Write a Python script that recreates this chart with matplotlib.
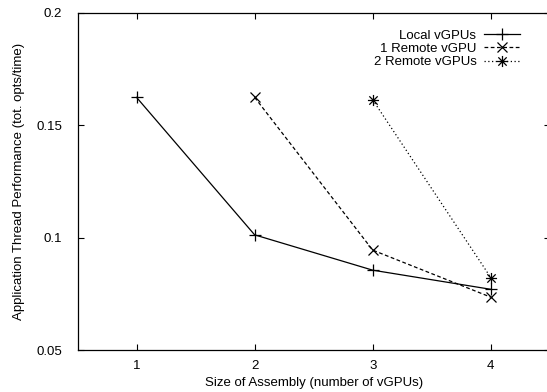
import matplotlib.pyplot as plt
from matplotlib.path import Path

# Data
sizes_local = [1, 2, 3, 4]
perf_local = [0.1623, 0.1012, 0.0855, 0.0770]

sizes_remote1 = [2, 3, 4]
perf_remote1 = [0.1623, 0.0944, 0.0735]

sizes_remote2 = [3, 4]
perf_remote2 = [0.1612, 0.0822]

xticks = [1, 2, 3, 4]
yticks = [0.05, 0.1, 0.15, 0.2]
ytick_labels = ["0.05", "0.1", "0.15", "0.2"]

plt.rcParams['font.family'] = ['Liberation Sans', 'DejaVu Sans']

# gnuplot style star: plus and cross on top of each other
star = Path(
    [(-1, 0), (1, 0), (0, -1), (0, 1), (-0.75, -0.75), (0.75, 0.75), (-0.75, 0.75), (0.75, -0.75)],
    [Path.MOVETO, Path.LINETO] * 4,
)

fig = plt.figure(figsize=(5.47, 3.92), dpi=100)
ax = fig.add_axes([0.1417, 0.107, 0.8635, 0.861])

ax.plot(sizes_local, perf_local, color="black", linestyle="-", linewidth=0.9,
        marker="+", markersize=8, markeredgewidth=0.9, label="Local vGPUs")
ax.plot(sizes_remote1, perf_remote1, color="black", linestyle=(0, (3, 2)), linewidth=0.9,
        marker="x", markersize=7, markeredgewidth=0.9, label="1 Remote vGPU")
ax.plot(sizes_remote2, perf_remote2, color="black", linestyle=(0, (1, 2)), linewidth=0.9,
        marker=star, markersize=8, markeredgewidth=0.9, label="2 Remote vGPUs")

ax.set_xlim(0.5, 4.5)
ax.set_ylim(0.05, 0.2)
ax.set_xticks(xticks)
ax.set_yticks(yticks)
ax.set_yticklabels(ytick_labels)
ax.tick_params(direction="in", length=4, width=0.8, labelsize=9.5,
               top=True, right=True)
ax.tick_params(axis="y", pad=11)
ax.tick_params(axis="x", pad=7)

for s in ax.spines.values():
    s.set_linewidth(0.9)

ax.set_xlabel("Size of Assembly (number of vGPUs)", fontsize=9.5, labelpad=4)
ax.set_ylabel("Application Thread Performance (tot. opts/time)", fontsize=9.5, labelpad=8)

ax.legend(loc="upper right", frameon=False, markerfirst=False, fontsize=9.5,
          handlelength=2.7, handletextpad=0.6, labelspacing=0.08,
          bbox_to_anchor=(0.962, 0.985))

plt.savefig("out.png", dpi=100)
